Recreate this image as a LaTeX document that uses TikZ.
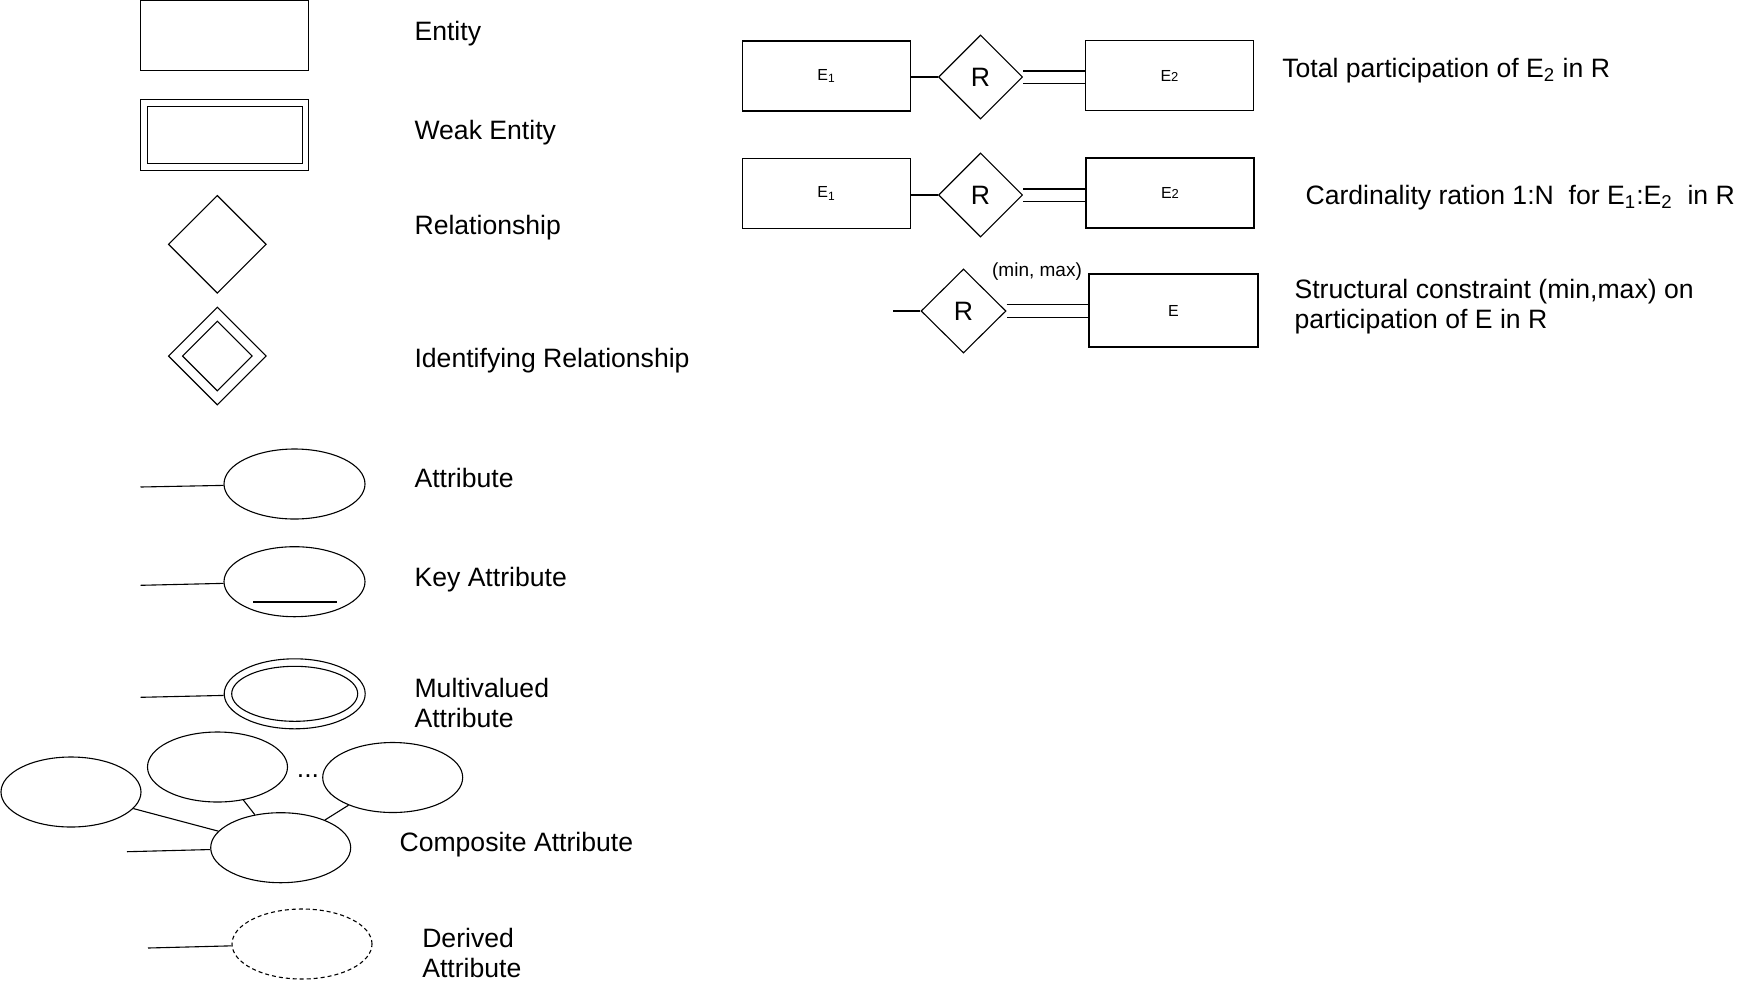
\documentclass[tikz,border=0pt]{standalone}
\usepackage{fontspec}
\setmainfont{Liberation Sans}
\usepackage{tikz}
\usetikzlibrary{shapes.geometric, positioning, calc}

\tikzset{
  entitybox/.style={draw, rectangle, inner sep=0pt, minimum width=84pt, minimum height=35pt, font=\fontsize{8}{9}\selectfont},
  relbox/.style={draw, diamond, aspect=1, inner sep=0pt, minimum width=42pt, minimum height=42pt},
  attrbox/.style={draw, ellipse, inner sep=0pt, minimum width=70pt, minimum height=35pt},
  legend/.style={anchor=base west, inner sep=0pt},
  legendtwo/.style={anchor=west, inner sep=0pt, align=left},
  totalline/.style={double, double distance=5.5pt}
}

\begin{document}
\begin{tikzpicture}[x=0.5pt, y=-0.5pt, line width=0.55pt, font=\fontsize{13.3}{15}\selectfont]
      \useasboundingbox (0,0) rectangle (1748,980);

      \node[entitybox] (entity) at (224.7,35.7) {};
      \node[entitybox, minimum height=35.5pt] (weak) at (224.8,134.8) {};
      \node[entitybox, minimum width=77.3pt, minimum height=28.3pt] (weakin) at (weak) {};
      \node[relbox, minimum width=49pt, minimum height=49pt] (rel) at (217.3,244.3) {};
      \node[relbox, minimum width=49pt, minimum height=49pt] (idrel) at (217.3,356) {};
      \node[relbox, minimum width=35pt, minimum height=35pt] (idrelin) at (idrel) {};

      \node[attrbox, minimum width=70.5pt] (attr) at (294.5,484) {};
      \coordinate (attrend) at (140.5,487);
      \draw (attrend) -- (attr);

      \node[attrbox, minimum width=70.5pt] (key) at (294.5,581.7) {};
      \coordinate (keyend) at (140.5,585.3);
      \draw (keyend) -- (key);
      \draw (253,602) -- (337,602);

      \node[attrbox, minimum width=70.5pt] (multi) at (294.7,693.8) {};
      \node[attrbox, minimum width=63pt, minimum height=27.5pt] (multiin) at (multi) {};
      \coordinate (multiend) at (140.5,697.3);
      \draw (multiend) -- (multi);

      \node[attrbox] (cleft) at (71,792) {};
      \node[attrbox] (ctop) at (217.5,767) {};
      \node[attrbox] (cright) at (392.7,777.5) {};
      \node[attrbox] (cbot) at (280.7,847.7) {};
      \node[inner sep=0pt] (cdots) at (308,776) {...};
      \coordinate (cend) at (127,851.7);
      \draw (cend) -- (cbot);
      \draw (cleft) -- (cbot);
      \draw (ctop) -- (cbot);
      \draw (cright) -- (cbot);

      \node[attrbox, dash pattern=on 2pt off 1.5pt] (derived) at (302,944) {};
      \coordinate (derivedend) at (148,948);
      \draw (derivedend) -- (derived);

      \node[legend] (lentity) at (414,40) {Entity};
      \node[legend] (lweak) at (414,139.5) {Weak Entity};
      \node[legend] (lrel) at (414,234.5) {Relationship};
      \node[legend] (lidrel) at (414,367.5) {Identifying Relationship};
      \node[legend] (lattr) at (414,487.5) {Attribute};
      \node[legend] (lkey) at (414,586) {Key Attribute};
      \node[legendtwo] (lmulti) at (414,703) {Multivalued\\Attribute};
      \node[legend] (lcomp) at (399,851) {Composite Attribute};
      \node[legendtwo] (lderived) at (421.7,952.8) {Derived\\Attribute};

      \node[entitybox] (tpa) at (826.5,76) {E\textsubscript{1}};
      \node[relbox] (tpr) at (980.5,77) {R};
      \node[entitybox] (tpb) at (1169.5,75.5) {E{\fontsize{6.5}{7}\selectfont 2}};
      \draw (tpr.west -| tpa.east) -- (tpr.west);
      \draw[totalline] (tpr.east) -- (tpr.east -| tpb.west);

      \node[entitybox] (cra) at (826.5,193.5) {E\textsubscript{1}};
      \node[relbox] (crr) at (980.5,195) {R};
      \node[entitybox] (crb) at (1170,193) {E{\fontsize{6.5}{7}\selectfont 2}};
      \draw (crr.west -| cra.east) -- (crr.west);
      \draw[totalline] (crr.east) -- (crr.east -| crb.west);

      \node[relbox, minimum width=42.5pt] (scr) at (963.5,311) {R};
      \node[entitybox, minimum width=84.5pt, minimum height=36.5pt] (sce) at (1173.5,310.5) {E};
      \coordinate (scend) at (893,311);
      \draw (scend) -- (scr);
      \draw[totalline, double distance=5.9pt] (scr.east) -- (scr.east -| sce.west);
      \node[inner sep=0pt, font=\fontsize{9.5}{11}\selectfont] (minmax) at (1037,272) {(min, max)};

      \node[legend] (ltotal) at (1281.7,77.5) {Total participation of E\textsubscript{2} in R};
      \node[legend] (lcard) at (1305,204.5) {Cardinality ration 1:N\ \ for E\textsubscript{1}:E\textsubscript{2}\ \ in R};
      \node[legendtwo] (lstruct) at (1294,306.8) {Structural constraint (min,max) on\\participation of E in R};

    \end{tikzpicture}
\end{document}
